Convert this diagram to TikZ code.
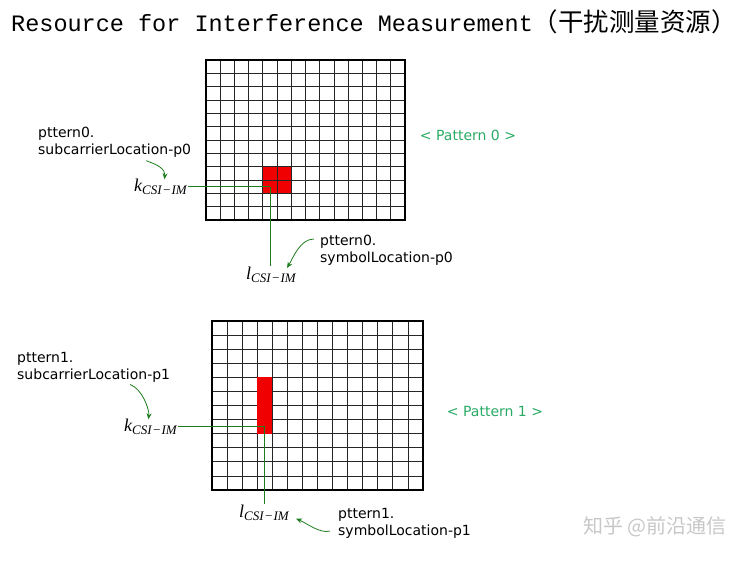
\documentclass[tikz,border=0pt]{standalone}
\usepackage{fontspec}
\setmainfont{DejaVu Sans}
\newfontfamily\titlefont{Liberation Mono}
\newfontfamily\cjk{Noto Sans CJK SC}
\newfontfamily\idxfont{Liberation Serif}
\usetikzlibrary{arrows.meta}

\definecolor{arrowgreen}{RGB}{30,125,30}
\definecolor{patgreen}{RGB}{40,170,100}
\definecolor{cellred}{RGB}{240,0,0}

% index label such as k_{CSI-IM}
\newcommand{\csiim}[1]{{\idxfont\itshape\fontsize{18}{20}\selectfont #1\raisebox{-0.3ex}{\fontsize{13}{14}\selectfont CSI\kern0.6pt−\kern0.6pt IM}}}

\tikzset{
  cell/.style={black!85, line width=0.8pt},
  frame/.style={black, line width=1.6pt},
  garrow/.style={arrowgreen, line width=0.8pt, -{Stealth[length=6pt,width=5pt]}},
  gline/.style={arrowgreen, line width=0.8pt},
  fieldtext/.style={align=left, inner sep=0pt, font=\fontsize{14}{17}\selectfont},
  idx/.style={inner sep=1pt},
  pattext/.style={patgreen, font=\fontsize{14}{17}\selectfont}
}

\begin{document}
\begin{tikzpicture}[x=1pt,y=-1pt]
  \useasboundingbox (0,0) rectangle (754,561);

  % Title
  \node[anchor=base west, inner sep=0pt] (title) at (11,32)
    {\titlefont\fontsize{23.5}{28}\selectfont Resource for Interference Measurement{\cjk\fontsize{25.5}{28}\selectfont （干扰测量资源）}};

  % Pattern 0 grid
  \begin{scope}[shift={(206,60)}, x=14.214pt, y=-13.333pt]
    \fill[cellred] (4,8) rectangle (6,10);
    \foreach \i in {1,...,13}
      \draw[cell] (\i,0) -- (\i,12);
    \foreach \j in {1,...,11}
      \draw[cell] (0,\j) -- (14,\j);
    \draw[frame] (0,0) rectangle (14,12);
    \coordinate (t0) at (4.5,9.5);
  \end{scope}

  \node[pattext] (pat0) at (468,135) {< Pattern 0 >};
  \node[fieldtext, anchor=north west] (sc0) at (38,127) {pttern0.\\subcarrierLocation-p0};
  \node[idx, anchor=east] (k0) at (188,187) {\csiim{k}};
  \node[idx, anchor=north] (l0) at (271,266) {\csiim{l}};
  \node[fieldtext, anchor=north west] (sy0) at (320,235) {pttern0.\\symbolLocation-p0};

  \draw[gline] (k0.east |- t0) -- (t0);
  \draw[gline] (t0 |- l0.north) -- (t0);
  \draw[garrow] ([xshift=108pt,yshift=-3pt]sc0.south west) .. controls +(12,4) and +(1,-10) .. ([xshift=4pt,yshift=-1pt]k0.north);
  \draw[garrow] ([xshift=-6pt,yshift=-4pt]sy0.north west) .. controls +(-14,0) and +(6,-10) .. ([xshift=16pt,yshift=-2pt]l0.north);

  % Pattern 1 grid
  \begin{scope}[shift={(212,321)}, x=15.07pt, y=-14.083pt]
    \foreach \i in {1,...,13}
      \draw[cell] (\i,0) -- (\i,12);
    \foreach \j in {1,...,11}
      \draw[cell] (0,\j) -- (14,\j);
    \fill[cellred] (3,4) rectangle (4,8);
    \draw[frame] (0,0) rectangle (14,12);
    \coordinate (t1) at (3.5,7.5);
  \end{scope}

  \node[pattext] (pat1) at (495,411) {< Pattern 1 >};
  \node[fieldtext, anchor=north west] (sc1) at (17,352) {pttern1.\\subcarrierLocation-p1};
  \node[idx, anchor=east] (k1) at (178,427) {\csiim{k}};
  \node[idx, anchor=north] (l1) at (264,504) {\csiim{l}};
  \node[fieldtext, anchor=north west] (sy1) at (338,508) {pttern1.\\symbolLocation-p1};

  \draw[gline] (k1.east |- t1) -- (t1);
  \draw[gline] (t1 |- l1.north) -- (t1);
  \draw[garrow] ([xshift=113pt,yshift=-2pt]sc1.south west) .. controls +(12,4) and +(1,-10) .. ([xshift=-2pt,yshift=-1pt]k1.north);
  \draw[garrow] ([xshift=-8pt,yshift=-23pt]sy1.north west) .. controls +(-10,3) and +(10,4) .. ([xshift=6pt,yshift=-6pt]l1.east);

  % watermark
  \node[black!22, font=\cjk\fontsize{20}{24}\selectfont] (mark) at (655,527) {知乎 @前沿通信};
\end{tikzpicture}
\end{document}
